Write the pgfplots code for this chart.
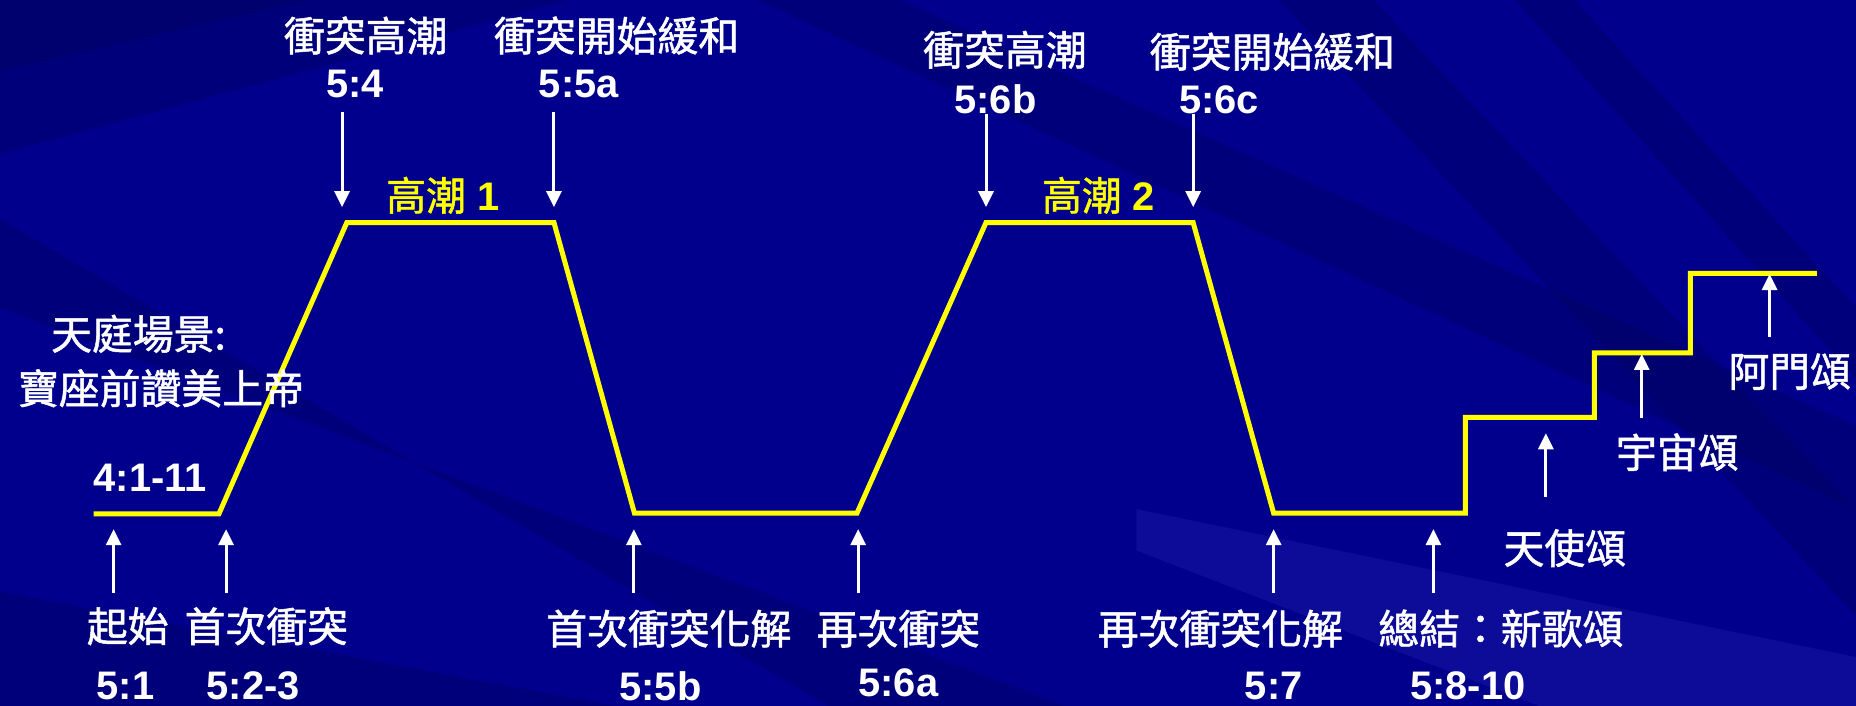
\documentclass[border=0pt]{standalone}
\usepackage{pgfplots}
\pgfplotsset{compat=1.18}
\usepackage{fontspec}
\setmainfont{Liberation Sans}
\newfontfamily\cjk{Noto Sans CJK TC}[FakeBold=1.3]
\usetikzlibrary{arrows.meta}
\definecolor{bg}{RGB}{0,0,140}
\definecolor{bgdark}{RGB}{0,0,95}
\definecolor{bglight}{RGB}{40,40,185}
\definecolor{hi}{RGB}{255,255,0}

\tikzset{
  zh/.style={text=white, inner sep=0pt, font=\cjk\fontsize{41}{48}\selectfont},
  vs/.style={text=white, inner sep=0pt, font=\bfseries\fontsize{40}{48}\selectfont},
  hl/.style={text=hi, inner sep=0pt, font=\fontsize{40}{48}\selectfont},
}
\pgfplotsset{
  up/.style={white, line width=3bp, -{Triangle[width=15bp,length=16bp]}},
  band/.style={draw=none, fill=bgdark, fill opacity=0.4},
}

\begin{document}
\begin{tikzpicture}
\begin{axis}[
  scale only axis, width=1856bp, height=706bp,
  xmin=0, xmax=1568, ymin=0, ymax=596.4, y dir=reverse,
  axis lines=none, ticks=none,
]
% background
\addplot[draw=none, fill=bg] coordinates {(0,0) (1568,0) (1568,596.4) (0,596.4)} -- cycle;
\addplot[band] coordinates {(0,0) (480,0) (0,130)} -- cycle;
\addplot[band] coordinates {(0,0) (260,0) (0,60)} -- cycle;
\addplot[band] coordinates {(0,185) (0,260) (900,596.4) (700,596.4)} -- cycle;
\addplot[band] coordinates {(0,500) (0,596.4) (520,596.4)} -- cycle;
\addplot[band] coordinates {(640,0) (760,0) (1568,360) (1568,430)} -- cycle;
\addplot[band] coordinates {(1080,0) (1160,0) (1568,430) (1568,520)} -- cycle;
\addplot[band] coordinates {(1280,0) (1330,0) (1568,260) (1568,320)} -- cycle;
\addplot[draw=none, fill=bglight, fill opacity=0.3] coordinates {(960,430) (1568,555) (1568,596.4) (1300,596.4) (960,465)} -- cycle;

% plot line
\addplot[hi, line width=5bp, line join=miter] coordinates {
  (79,434) (185,434) (293,188) (468,188) (536,433.5) (724,433.5)
  (833,188) (1008,188) (1076,433.5) (1238,433.5) (1238,352.5)
  (1347,352.5) (1347,298) (1428,298) (1428,231) (1535,231)};

% arrows pointing up
\addplot[up] coordinates {(96,501) (96,447)};
\addplot[up] coordinates {(191,501) (191,447)};
\addplot[up] coordinates {(535.5,501) (535.5,447)};
\addplot[up] coordinates {(725,501) (725,447)};
\addplot[up] coordinates {(1076,501) (1076,447)};
\addplot[up] coordinates {(1211,501) (1211,447)};
\addplot[up] coordinates {(1306,420) (1306,366)};
\addplot[up] coordinates {(1387,353) (1387,299)};
\addplot[up] coordinates {(1495,284.5) (1495,231.5)};
% arrows pointing down
\addplot[up] coordinates {(289,95) (289,175)};
\addplot[up] coordinates {(468,95) (468,175)};
\addplot[up] coordinates {(833,96) (833,175)};
\addplot[up] coordinates {(1008,96) (1008,175)};

% labels
\node[zh] at (axis cs:309,30) {衝突高潮};
\node[vs] at (axis cs:300,71) {5:4};
\node[zh] at (axis cs:521,30) {衝突開始緩和};
\node[vs] at (axis cs:489,71) {5:5a};
\node[hl] at (axis cs:374,165) {{\cjk 高潮} \textbf{1}};
\node[zh] at (axis cs:849,42) {衝突高潮};
\node[vs] at (axis cs:841,84) {5:6b};
\node[zh] at (axis cs:1075,43.6) {衝突開始緩和};
\node[vs] at (axis cs:1030,84.5) {5:6c};
\node[hl] at (axis cs:928,165) {{\cjk 高潮} \textbf{2}};

\node[zh] at (axis cs:117,282) {天庭場景:};
\node[zh] at (axis cs:136,328) {寶座前讚美上帝};
\node[vs] at (axis cs:127,404) {4:1-11};

\node[zh] at (axis cs:108,529) {起始};
\node[vs] at (axis cs:106,579.5) {5:1};
\node[zh] at (axis cs:225,529) {首次衝突};
\node[vs] at (axis cs:214,579.5) {5:2-3};
\node[zh] at (axis cs:565,531) {首次衝突化解};
\node[vs] at (axis cs:558,579.5) {5:5b};
\node[zh] at (axis cs:759,531) {再次衝突};
\node[vs] at (axis cs:759,577) {5:6a};
\node[zh] at (axis cs:1031,531) {再次衝突化解};
\node[vs] at (axis cs:1076,579.5) {5:7};
\node[zh] at (axis cs:1268,531) {總結：新歌頌};
\node[vs] at (axis cs:1240,579.5) {5:8-10};

\node[zh] at (axis cs:1322,463) {天使頌};
\node[zh] at (axis cs:1417,382) {宇宙頌};
\node[zh] at (axis cs:1512,314) {阿門頌};
\end{axis}
\pgfresetboundingbox
\path[use as bounding box] (current axis.south west) rectangle (current axis.north east);
\end{tikzpicture}
\end{document}
